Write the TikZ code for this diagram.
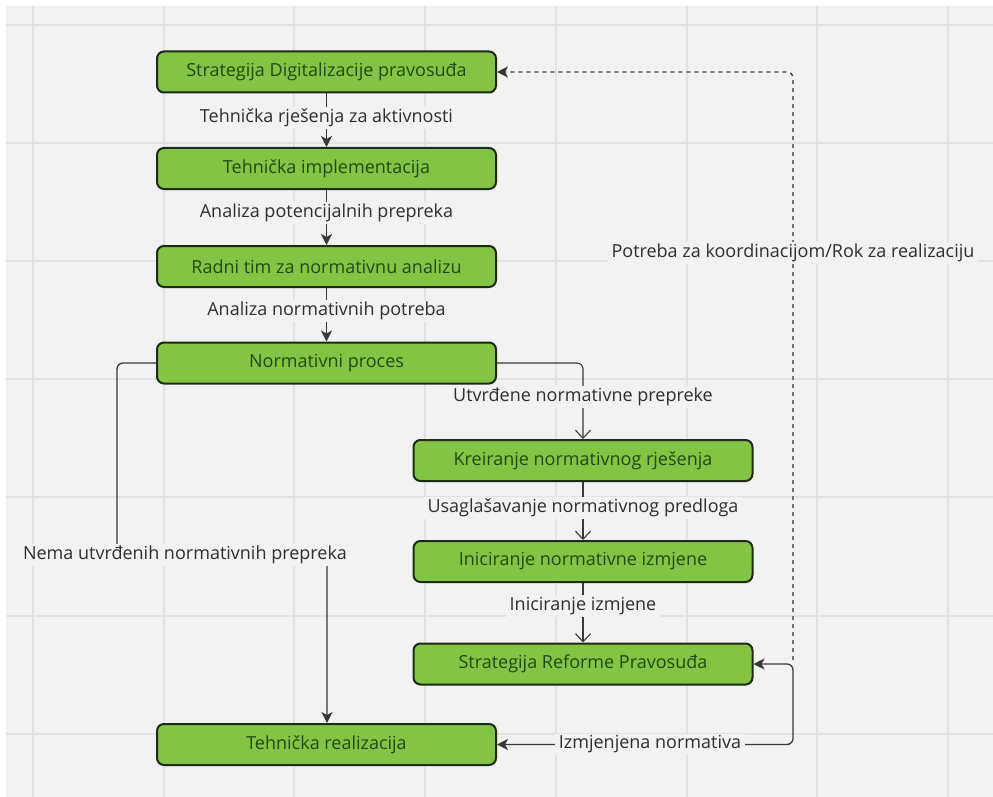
\documentclass[tikz,border=0pt]{standalone}
\usepackage{fontspec}
\setmainfont{Open Sans}
\usetikzlibrary{arrows.meta}
\definecolor{bg}{HTML}{F2F2F2}
\definecolor{gridc}{HTML}{E2E2E2}
\definecolor{boxfill}{HTML}{84C444}
\definecolor{boxdraw}{HTML}{1E2B14}
\definecolor{boxtext}{HTML}{1F4A14}
\definecolor{linec}{HTML}{383838}
\definecolor{labtext}{HTML}{2E2E2E}
\tikzset{
  box/.style={draw=boxdraw, line width=2pt, fill=boxfill, rounded corners=7pt,
    minimum width=339pt, minimum height=41pt, text=boxtext, inner sep=0pt,
    font=\fontsize{18}{20}\selectfont},
  lab/.style={fill=bg, text=labtext, inner xsep=4pt, inner ysep=2pt, font=\fontsize{18}{20}\selectfont},
  conn/.style={draw=linec, line width=1.3pt},
  solidarrow/.style={conn, -{Stealth[length=11pt,width=11pt,inset=3pt]}},
  openarrow/.style={conn, line width=1.1pt, -{Straight Barb[length=8pt,width=15pt]}},
  gridline/.style={draw=gridc, line width=2pt},
}
\begin{document}
\begin{tikzpicture}[x=1pt,y=-1pt]
\useasboundingbox (0,0) rectangle (993,797);
\fill[white] (0,0) rectangle (993,797);
\fill[bg] (6,6) rectangle (993,797);
\foreach \gx in {33,164,294,425,556,687,817,948} \path[gridline] (\gx,6) -- (\gx,797);
\foreach \gy in {25,143,261,379,497,616,734} \path[gridline] (6,\gy) -- (993,\gy);

% boxes
\node[box] (b1) at (326.5,72) {Strategija Digitalizacije pravosuđa};
\node[box] (b2) at (326.5,168.5) {Tehnička implementacija};
\node[box] (b3) at (326.5,266.5) {Radni tim za normativnu analizu};
\node[box] (b4) at (326.5,363) {Normativni proces};
\node[box] (b5) at (583,460.5) {Kreiranje normativnog rješenja};
\node[box] (b6) at (583,561.5) {Iniciranje normativne izmjene};
\node[box] (b7) at (583,664) {Strategija Reforme Pravosuđa};
\node[box] (b8) at (326.5,744.5) {Tehnička realizacija};

% top chain
\path[solidarrow] (b1) -- (b2);
\node[lab] (l1) at (326.5,118) {Tehnička rješenja za aktivnosti};
\path[solidarrow] (b2) -- (b3);
\node[lab] (l2) at (326.5,213) {Analiza potencijalnih prepreka};
\path[solidarrow] (b3) -- (b4);
\node[lab] (l3) at (326.5,311) {Analiza normativnih potreba};

% right chain
\coordinate (c4r) at (583,363);
\path[openarrow, rounded corners=6pt] (b4.east) -- (c4r) -- (b5.north);
\node[lab] (l4) at (583,397) {Utvrđene normativne prepreke};
\path[openarrow] (b5) -- (b6);
\node[lab] (l5) at (583,508) {Usaglašavanje normativnog predloga};
\path[openarrow] (b6) -- (b7);
\node[lab] (l6) at (583,606) {Iniciranje izmjene};

% left path
\coordinate (cl1) at (117,363);
\coordinate (cl2) at (117,555);
\coordinate (cl3) at (327,555);
\path[solidarrow, rounded corners=6pt] (b4.west) -- (cl1) -- (cl2) -- (cl3) -- (b8.north -| cl3);
\node[lab] (l7) at (185,555) {Nema utvrđenih normativnih prepreka};

% bottom loop
\coordinate (cr1) at (793,664);
\coordinate (cr2) at (793,744.5);
\path[conn, {Stealth[length=11pt,width=11pt,inset=3pt]}-{Stealth[length=11pt,width=11pt,inset=3pt]}, rounded corners=6pt] (b7.east) -- (cr1) -- (cr2) -- (b8.east);
\node[lab] (l8) at (650,744.5) {Izmjenjena normativa};

% dashed feedback
\coordinate (cd1) at (793,660);
\coordinate (cd2) at (793,72);
\path[solidarrow, dash pattern=on 4pt off 4pt, rounded corners=6pt] (cd1) -- (cd2) -- (b1.east);
\node[lab] (l9) at (793,253) {Potreba za koordinacijom/Rok za realizaciju};
\end{tikzpicture}
\end{document}
